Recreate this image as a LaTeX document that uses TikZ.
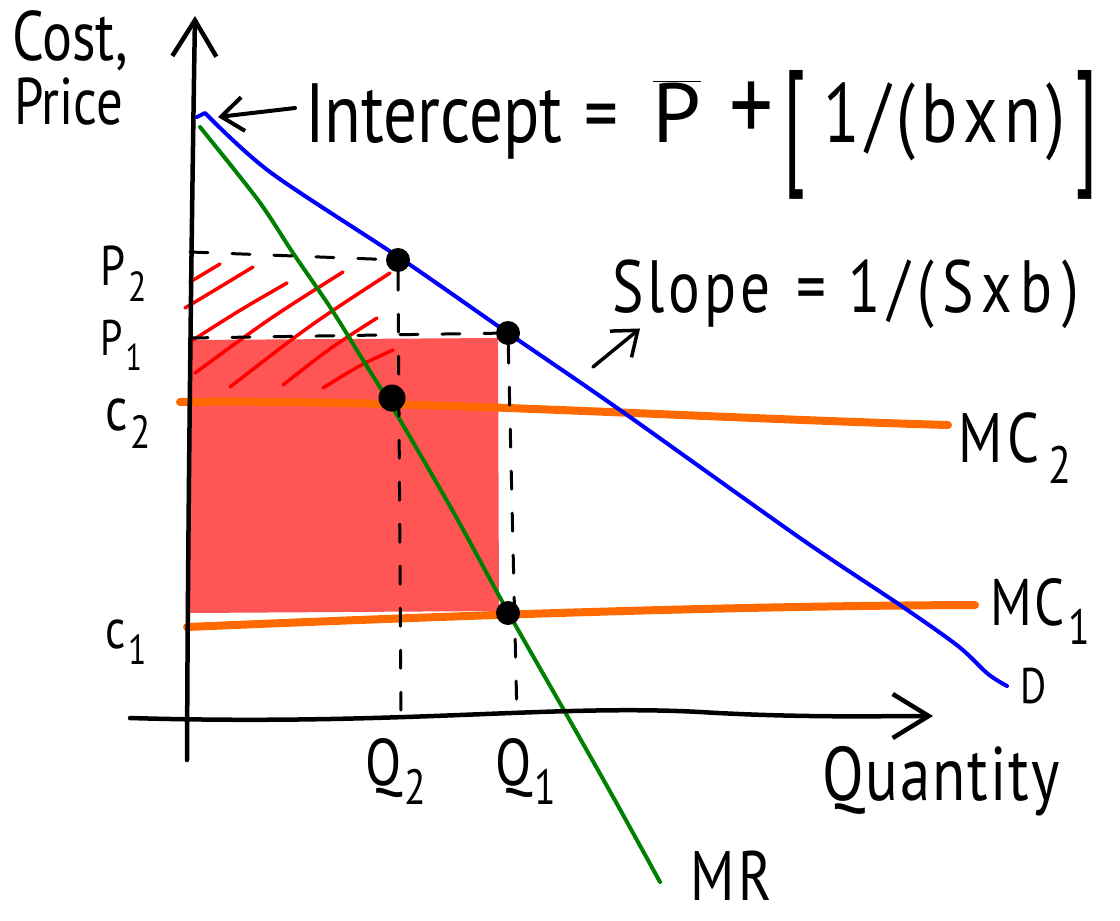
\documentclass[tikz,border=0pt]{standalone}
\usepackage{fontspec}
\setmainfont{PT Sans}[FakeStretch=0.8]
\usetikzlibrary{arrows.meta,calc}
\definecolor{mrgreen}{RGB}{0,128,0}
\definecolor{mcorange}{RGB}{255,106,0}
\definecolor{fillred}{RGB}{255,85,85}
\definecolor{hatchred}{RGB}{255,0,0}
\definecolor{dblue}{RGB}{0,0,255}
\newcommand\lblsize[1]{\fontsize{#1}{#1}\selectfont}
\newcommand\lsub[1]{\hspace{3pt}\raisebox{-0.3em}{\scalebox{0.75}{#1}}}
\newcommand\hs[1]{\hspace{#1pt}}
\newcommand\bigbr[1]{\raisebox{-0.3em}{\scalebox{1.1}[1.65]{#1}}}
\begin{document}
\begin{tikzpicture}[x=1pt,y=-1pt,
  axisline/.style={line width=4.5pt,line cap=round,line join=round},
  barb/.style={-{Straight Barb[length=36pt,width=44pt]}},
  smallbarb/.style={-{Straight Barb[length=22pt,width=34pt]}},
  dline/.style={black,line width=3pt,dash pattern=on 18pt off 24pt,line cap=round},
  dcurve/.style={dblue,line width=4pt,line cap=round,line join=round},
  mrcurve/.style={mrgreen,line width=4pt,line cap=round,line join=round},
  mcline/.style={mcorange,line width=8pt,line cap=round},
  hatch/.style={hatchred,line width=3.5pt,line cap=round},
  dot/.style={circle,fill=black,inner sep=0pt,minimum size=24pt},
  lbl/.style={inner sep=0pt,anchor=base west}]
\useasboundingbox (0,0) rectangle (1120,921);

% profit rectangle
\fill[fillred] (188,340) -- (498,338) -- (499,611) -- (189,613) -- cycle;

% hatching
\draw[hatch] (190,282) -- (220,264);
\draw[hatch] (185,308) .. controls (215,290) .. (253,267);
\draw[hatch] (193,340) .. controls (240,310) .. (287,283);
\draw[hatch] (195,373) .. controls (270,318) .. (343,272);
\draw[hatch] (230,387) .. controls (310,325) .. (390,273);
\draw[hatch] (283,385) .. controls (330,348) .. (377,318);
\draw[hatch] (323,388) .. controls (360,365) .. (393,350);

% marginal cost lines
\coordinate (mc2a) at (180,402);
\coordinate (mc2b) at (948,425);
\coordinate (mc1a) at (187,627);
\coordinate (mc1b) at (975,605);
\draw[mcline] (mc2a) .. controls (400,399) and (700,418) .. (mc2b);
\draw[mcline] (mc1a) .. controls (400,618) and (700,606) .. (mc1b);

% demand
\draw[dcurve] (197,117) -- plot[smooth] coordinates {(205,113) (270,172) (400,258) (508,333) (620,410) (800,538) (900,605) (958,646) (988,674) (1007,686)};
% marginal revenue
\draw[mrcurve] plot[smooth] coordinates {(200,127) (258,200) (293,253) (330,307) (363,360) (400,420) (455,515) (508,612) (565,712) (612,795) (660,882)};

% axes
\coordinate (yb) at (187,760);
\coordinate (yt) at (195,16);
\coordinate (xl) at (130,718);
\coordinate (xr) at (933,716);
\draw[axisline,barb] (yb) .. controls (188,500) and (192,200) .. (yt);
\draw[axisline,barb] (xl) .. controls (400,726) and (550,704) .. (700,712) .. controls (800,718) and (880,716) .. (xr);

% equilibrium dots
\node[dot] (dP2) at (398,260) {};
\node[dot] (dP1) at (508,333) {};
\node[dot,minimum size=27pt] (dC2) at (392,398) {};
\node[dot] (dC1) at (508,613) {};

% dashed guides
\coordinate (aP2) at (190,252);
\coordinate (aP1) at (190,338);
\coordinate (bQ2) at (401,718);
\coordinate (bQ1) at (517,718);
\draw[dline] (aP2) -- (dP2);
\draw[dline] (dP2) -- (bQ2);
\draw[dline] (aP1) -- (dP1);
\draw[dline] (dP1) -- (bQ1);

% labels
\node[lbl] (cost) at (12,60) {\lblsize{70}Cost,};
\node[lbl] (price) at (14,124) {\lblsize{66}Price};
\node[lbl] (intlbl) at (305,142) {\lblsize{84}Intercept\hs{22}=\hs{34}$\overline{\hbox{\scalebox{1.3}[1]{P}}}$\hs{28}\scalebox{1.3}{+}\hs{10}\bigbr{[}\hs{18}1\hs{6}/\hs{6}(\hs{6}b\hs{6}x\hs{6}n\hs{6})\hs{10}\bigbr{]}};
\node[lbl] (slope) at (612,312) {\lblsize{74}S\hs{4}l\hs{4}o\hs{4}p\hs{4}e\hs{26}=\hs{22}1\hs{8}/\hs{8}(\hs{8}S\hs{8}x\hs{8}b\hs{10})};
\node[lbl] (P2) at (100,285) {\lblsize{56}P\lsub{2}};
\node[lbl] (P1) at (100,355) {\lblsize{50}P\lsub{1}};
\node[lbl] (c2) at (105,430) {\lblsize{62}c\lsub{2}};
\node[lbl] (c1) at (105,648) {\lblsize{56}c\lsub{1}};
\node[lbl] (MC2) at (958,462) {\lblsize{70}M\hs{5}C\hs{6}\lsub{2}};
\node[lbl] (MC1) at (990,625) {\lblsize{66}M\hs{3}C\lsub{1}};
\node[lbl] (D) at (1020,703) {\lblsize{50}D};
\node[lbl] (Q2) at (365,785) {\lblsize{66}Q\lsub{2}};
\node[lbl] (Q1) at (495,785) {\lblsize{66}Q\lsub{1}};
\node[lbl] (qty) at (822,800) {\lblsize{76}Q\hs{2}u\hs{2}a\hs{2}n\hs{2}t\hs{2}i\hs{2}t\hs{2}y};
\node[lbl] (MR) at (690,900) {\lblsize{70}M\hs{4}R};

% annotation arrows
\coordinate (intTip) at (218,117);
\coordinate (slopeFoot) at (593,367);
\draw[axisline,smallbarb,line width=4pt] ($(intlbl.base west)+(-10,-34)$) -- (intTip);
\draw[axisline,smallbarb,line width=3.5pt] (slopeFoot) -- ($(slope.south west)+(28,0)$);
\end{tikzpicture}
\end{document}
